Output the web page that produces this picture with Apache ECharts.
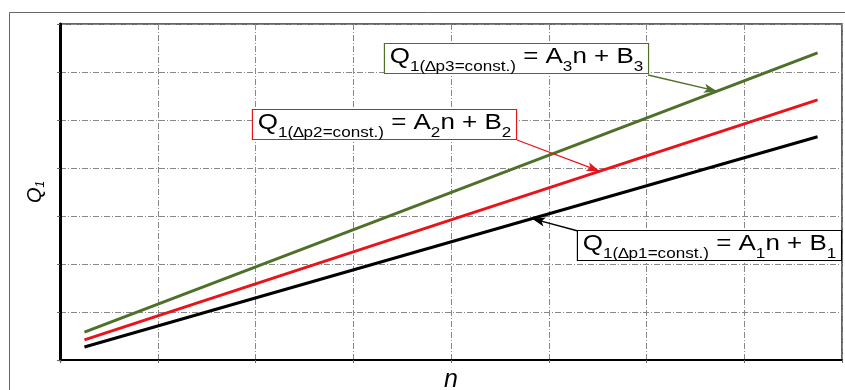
<!DOCTYPE html>
<html>
<head>
<meta charset="utf-8">
<script src="https://cdn.jsdelivr.net/npm/echarts@6/dist/echarts.min.js"></script>
<style>
  html, body { margin: 0; padding: 0; background: #fff; }
  #chart { width: 845px; height: 390px; }
</style>
</head>
<body>
<div id="chart"></div>
<script>
// grid units, axes carry no numbers in the source figure
var xRange = [0, 8];
var yRange = [0, 7];

// [n, Q1] end points of each straight line
var line1 = [[0.25, 0.27], [7.75, 4.65]];   // dp1 = const, black
var line2 = [[0.25, 0.42], [7.75, 5.42]];   // dp2 = const, red
var line3 = [[0.25, 0.58], [7.75, 6.40]];   // dp3 = const, green

// where each callout arrow touches its line (n value)
var arrowAt = [4.83, 5.52, 6.72];

var colors = ['#000000', '#e8141a', '#4e7028'];

function yOn(line, x) {
  var a = line[0], b = line[line.length - 1];
  return a[1] + (x - a[0]) * (b[1] - a[1]) / (b[0] - a[0]);
}

// the source figure is a bit stretched sideways, hence scaleX
function callout(color, idx, x, y) {
  var main = { fontSize: 22, lineHeight: 26, verticalAlign: 'top', color: color,
    fontFamily: 'Liberation Sans' };
  var sub = { fontSize: 14.5, lineHeight: 15, verticalAlign: 'top', padding: [13, 0, 0, 0],
    color: color, fontFamily: 'Liberation Sans' };
  return {
    type: 'text',
    x: x,
    y: y,
    scaleX: 1.18,
    z: 100,
    style: {
      x: 0, y: 0, align: 'left', verticalAlign: 'top',
      text: '{m|Q}{s|1(\u2206p' + idx + '=const.)}{m| = A}{s|' + idx + '}{m|n + B}{s|' + idx + '}',
      rich: { m: main, s: sub },
      backgroundColor: '#fff',
      borderColor: color,
      borderWidth: 1,
      padding: [2, 4, 1, 4]
    }
  };
}

function arrow(line, x, from, color) {
  return {
    silent: true,
    symbol: ['none', 'arrow'],
    symbolSize: [7, 13],
    label: { show: false },
    lineStyle: { color: color, type: 'solid', width: 1.3 },
    data: [[{ x: from[0], y: from[1] }, { coord: [x, yOn(line, x)] }]]
  };
}

var chart = echarts.init(document.getElementById('chart'));

chart.setOption({
  animation: false,
  backgroundColor: '#fff',
  grid: {
    left: 60, right: 3, top: 24, bottom: 30,
    outerBoundsMode: 'none',
    show: true, borderColor: '#333', borderWidth: 1.5
  },
  xAxis: {
    type: 'value', min: xRange[0], max: xRange[1], interval: 1,
    name: 'n', nameLocation: 'middle', nameGap: 8,
    nameTextStyle: { fontSize: 25, fontStyle: 'italic', color: '#000', fontFamily: 'Liberation Sans',
      verticalAlign: 'top' },
    axisLine: { show: true, onZero: false, lineStyle: { color: '#000', width: 2 } },
    axisTick: { show: true, length: 3, lineStyle: { color: '#666' } },
    axisLabel: { show: false },
    splitLine: { show: true, lineStyle: { color: '#888', width: 1, type: [6, 2, 1, 2] } }
  },
  yAxis: {
    type: 'value', min: yRange[0], max: yRange[1], interval: 1,
    name: '{q|Q}{s|1}', nameLocation: 'middle', nameGap: 13, nameRotate: 90,
    nameTextStyle: {
      rich: {
        q: { fontSize: 20, lineHeight: 22, fontStyle: 'italic', color: '#000',
          fontFamily: 'Liberation Sans', verticalAlign: 'top' },
        s: { fontSize: 12, lineHeight: 12, fontStyle: 'italic', color: '#000',
          fontFamily: 'Liberation Sans', verticalAlign: 'top', padding: [10, 0, 0, 0] }
      }
    },
    axisLine: { show: true, onZero: false, lineStyle: { color: '#000', width: 3 } },
    axisTick: { show: true, length: 3, lineStyle: { color: '#666' } },
    axisLabel: { show: false },
    splitLine: { show: true, lineStyle: { color: '#888', width: 1, type: [6, 2, 1, 2] } }
  },
  series: [
    {
      type: 'line', data: line1, showSymbol: false, z: 3,
      lineStyle: { color: colors[0], width: 3 },
      markLine: arrow(line1, arrowAt[0], [578, 231], colors[0])
    },
    {
      type: 'line', data: line2, showSymbol: false, z: 3,
      lineStyle: { color: colors[1], width: 3 },
      markLine: arrow(line2, arrowAt[1], [517, 140], colors[1])
    },
    {
      type: 'line', data: line3, showSymbol: false, z: 3,
      lineStyle: { color: colors[2], width: 3 },
      markLine: arrow(line3, arrowAt[2], [648, 75], colors[2])
    }
  ],
  graphic: [
    {
      type: 'rect', silent: true, z: -1,
      shape: { x: 9.5, y: 12.5, width: 860, height: 400 },
      style: { fill: 'none', stroke: '#666', lineWidth: 1 }
    },
    callout(colors[2], 3, 385, 44),
    callout(colors[1], 2, 253, 110),
    callout(colors[0], 1, 578, 231)
  ]
});
</script>
</body>
</html>
